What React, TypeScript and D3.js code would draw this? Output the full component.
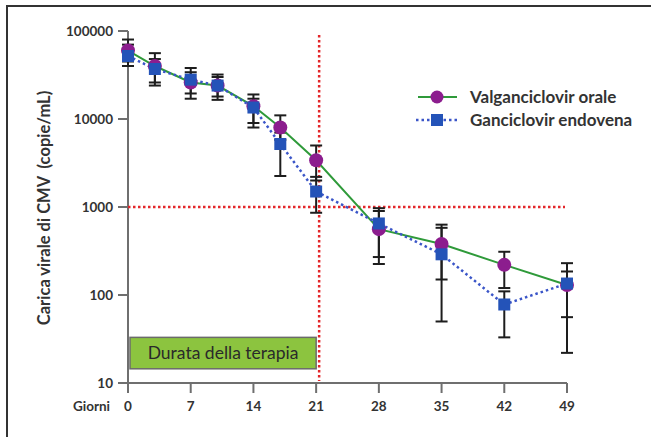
import React from "react"
import * as d3 from "d3"

const days = [0, 3, 7, 10, 14, 17, 21, 28, 35, 42, 49]

const valgMean = [60000, 40000, 26000, 24000, 14000, 8000, 3400, 560, 380, 220, 130]
const valgHigh = [80000, 56000, 34000, 32000, 19000, 11000, 5000, 900, 630, 310, 230]
const valgLow = [45000, 26000, 17000, 16500, 9000, 5800, 2000, 270, 150, 120, 56]

const ganMean = [52000, 37000, 28000, 24000, 13500, 5200, 1500, 650, 290, 78, 135]
const ganHigh = [70000, 48000, 38000, 30000, 17000, 7000, 2200, 970, 580, 110, 185]
const ganLow = [40000, 24000, 19500, 18000, 8000, 2250, 860, 225, 50, 33, 22]

const xTicks = [0, 7, 14, 21, 28, 35, 42, 49]
const yTicks = [10, 100, 1000, 10000, 100000]

const seriesNames = ["Valganciclovir orale", "Ganciclovir endovena"]
const therapyLabel = "Durata della terapia"
const therapyEnd = 21
const threshold = 1000
const boxRange = [14.5, 33]

const FONT = "Lato, 'Open Sans', sans-serif"

export default function App() {
  const x = d3.scaleLinear().domain([0, 49]).range([128, 567])
  const y = d3.scaleLog().domain([10, 100000]).range([383, 31])

  const line = d3.line<number>()
    .x((_, i) => x(days[i]))
    .y(d => y(d))

  const errorBars = (hi: number[], lo: number[], key: string) =>
    days.map((d, i) => (
      <g key={key + i} stroke="#1d1d1d" strokeWidth={2}>
        <line x1={x(d)} x2={x(d)} y1={y(hi[i])} y2={y(lo[i])} />
        <line x1={x(d) - 6} x2={x(d) + 6} y1={y(hi[i])} y2={y(hi[i])} />
        <line x1={x(d) - 6} x2={x(d) + 6} y1={y(lo[i])} y2={y(lo[i])} />
      </g>
    ))

  const redX = x(therapyEnd) + 3

  return (
    <svg width={651} height={437} style={{ position: "absolute", left: 0, top: 0 }}
      fontFamily={FONT}>
      <rect x={0} y={0} width={651} height={437} fill="#fff" />
      <rect x={7} y={6} width={700} height={500} fill="none" stroke="#333" strokeWidth={2} />

      {/* therapy box */}
      <rect x={x(0) + 2} y={y(boxRange[1])} width={x(therapyEnd) - x(0) - 2}
        height={y(boxRange[0]) - y(boxRange[1])} fill="#8cc43f" stroke="#6b6b6b" strokeWidth={1.5} />
      <text x={(x(0) + x(therapyEnd)) / 2 + 1} y={(y(boxRange[0]) + y(boxRange[1])) / 2 + 6}
        textAnchor="middle" fontSize={17.5} fill="#2a2a2a">{therapyLabel}</text>

      {/* axes */}
      <g stroke="#6f6f6f" strokeWidth={2}>
        <line x1={x(0)} x2={x(0)} y1={y(100000)} y2={y(10)} />
        <line x1={x(0)} x2={x(49)} y1={y(10)} y2={y(10)} />
        {yTicks.map(t => (
          <line key={"yt" + t} x1={x(0) - 10} x2={x(0)} y1={y(t)} y2={y(t)} />
        ))}
        {xTicks.map(t => (
          <line key={"xt" + t} x1={x(t)} x2={x(t)} y1={y(10)} y2={y(10) + 10} />
        ))}
      </g>
      {yTicks.map(t => (
        <text key={"yl" + t} x={x(0) - 15} y={y(t) + 5} textAnchor="end" fontSize={13.5}
          fontWeight="bold" fill="#333">{t}</text>
      ))}
      {xTicks.map(t => (
        <text key={"xl" + t} x={x(t)} y={y(10) + 28} textAnchor="middle" fontSize={13.5}
          fontWeight="bold" fill="#333">{t}</text>
      ))}
      <text x={110} y={y(10) + 28} textAnchor="end" fontSize={13.5} fontWeight="bold" fill="#333">Giorni</text>
      <text transform={`translate(50,208) rotate(-90)`} textAnchor="middle" fontSize={16.5}
        fontWeight="bold" fill="#333" style={{ whiteSpace: "pre" }}>Carica virale di CMV  (copie/mL)</text>

      {/* red reference lines */}
      <line x1={redX} x2={redX} y1={35} y2={y(10) - 2} stroke="#e3262a" strokeWidth={2.5}
        strokeDasharray="2.5,2.5" />
      <line x1={x(0)} x2={565} y1={y(threshold)} y2={y(threshold)} stroke="#e3262a" strokeWidth={2.5}
        strokeDasharray="2.5,2.5" />

      {errorBars(valgHigh, valgLow, "ve")}
      {errorBars(ganHigh, ganLow, "ge")}

      <path d={line(valgMean) || ""} fill="none" stroke="#2f9a3a" strokeWidth={2} />
      <path d={line(ganMean) || ""} fill="none" stroke="#3a55c8" strokeWidth={2.5}
        strokeDasharray="2.5,3" />

      {valgMean.map((v, i) => (
        <circle key={"vc" + i} cx={x(days[i])} cy={y(v)} r={7} fill="#8c1d8e" />
      ))}
      {ganMean.map((v, i) => (
        <rect key={"gs" + i} x={x(days[i]) - 6} y={y(v) - 6} width={12} height={12} fill="#2453b8" />
      ))}

      {/* legend */}
      <line x1={418} x2={457} y1={97} y2={97} stroke="#2f9a3a" strokeWidth={2} />
      <circle cx={437} cy={97} r={6.5} fill="#8c1d8e" />
      <line x1={416} x2={457} y1={120} y2={120} stroke="#3a55c8" strokeWidth={2.5} strokeDasharray="2.5,3" />
      <rect x={431} y={114} width={12} height={12} fill="#2453b8" />
      <text x={470} y={103} fontSize={17} fontWeight="bold" fill="#333">{seriesNames[0]}</text>
      <text x={470} y={126} fontSize={17} fontWeight="bold" fill="#333">{seriesNames[1]}</text>
    </svg>
  )
}
